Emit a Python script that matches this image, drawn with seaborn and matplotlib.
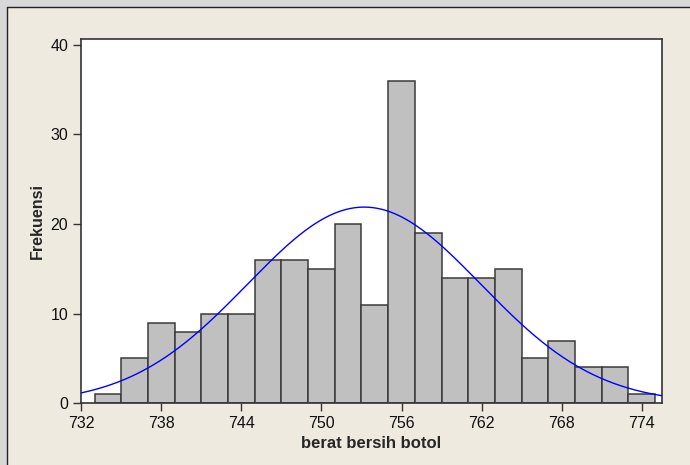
import numpy as np
import pandas as pd
import matplotlib
matplotlib.use("Agg")
import matplotlib.pyplot as plt
import seaborn as sns
from matplotlib.patches import Rectangle
from matplotlib.lines import Line2D

# Net bottle weight histogram (bin centres, bin width 2) and counts per bin
bin_centers = [734, 736, 738, 740, 742, 744, 746, 748, 750, 752, 754,
               756, 758, 760, 762, 764, 766, 768, 770, 772, 774]
counts = [1, 5, 9, 8, 10, 10, 16, 16, 15, 20, 11,
          36, 19, 14, 14, 15, 5, 7, 4, 4, 1]
bin_width = 2

# Fitted normal distribution parameters
fit_mean = 753.2
fit_sd = 8.75

x_ticks = [732, 738, 744, 750, 756, 762, 768, 774]
y_ticks = [0, 10, 20, 30, 40]
x_label = "berat bersih botol"
y_label = "Frekuensi"

sns.set_style("white")
plt.rcParams["font.family"] = ["Liberation Sans", "DejaVu Sans"]

df = pd.DataFrame({"berat": bin_centers, "n": counts})
edges = [c - bin_width / 2 for c in bin_centers] + [bin_centers[-1] + bin_width / 2]

fig = plt.figure(figsize=(6.9, 4.65), dpi=100)
panel_bg = "#EEEAE0"
fig.patch.set_facecolor("#D8D8D8")

# Beige panel with a dark border on its top and left edges
px, py = 7 / 690, 7 / 465
fig.patches.append(Rectangle((px, 0), 1 - px, 1 - py, transform=fig.transFigure,
                             facecolor=panel_bg, edgecolor="none", zorder=-5))
fig.lines.append(Line2D([px, px], [0, 1 - py], transform=fig.transFigure,
                        color="#222222", lw=1.0, zorder=-4))
fig.lines.append(Line2D([px, 1], [1 - py, 1 - py], transform=fig.transFigure,
                        color="#222222", lw=1.0, zorder=-4))

ax = fig.add_axes([81.3 / 690, 1 - 403.3 / 465,
                   (661.7 - 81.3) / 690, (403.3 - 39.3) / 465])
ax.set_zorder(1)
ax.set_facecolor("white")

sns.histplot(data=df, x="berat", weights="n", bins=edges, ax=ax,
             color="#C0C0C0", edgecolor="#3A3A3A", linewidth=1.1,
             alpha=1.0, zorder=2)

xs = np.linspace(732, 775.5, 400)
ys = sum(counts) * bin_width * np.exp(-0.5 * ((xs - fit_mean) / fit_sd) ** 2) / (fit_sd * np.sqrt(2 * np.pi))
sns.lineplot(x=xs, y=ys, ax=ax, color="#0000FF", lw=1.0, zorder=3)

ax.set_xlim(732, 775.5)
ax.set_ylim(0, 40.6)
ax.set_xticks(x_ticks)
ax.set_yticks(y_ticks)
ax.tick_params(axis="both", direction="out", length=6, width=1.0,
               color="#333333", labelsize=11.5, labelcolor="#111111", pad=3.5,
               bottom=True, left=True)
for s in ax.spines.values():
    s.set_color("#333333")
    s.set_linewidth(1.2)

ax.set_xlabel(x_label, fontsize=12, fontweight="bold", labelpad=3)
ax.set_ylabel("")
fig.text(37 / 690, 1 - 221 / 465, y_label, rotation=90, fontsize=11.5,
         fontweight="bold", ha="center", va="center")

fig.savefig("out.png", dpi=100, facecolor=fig.get_facecolor())
